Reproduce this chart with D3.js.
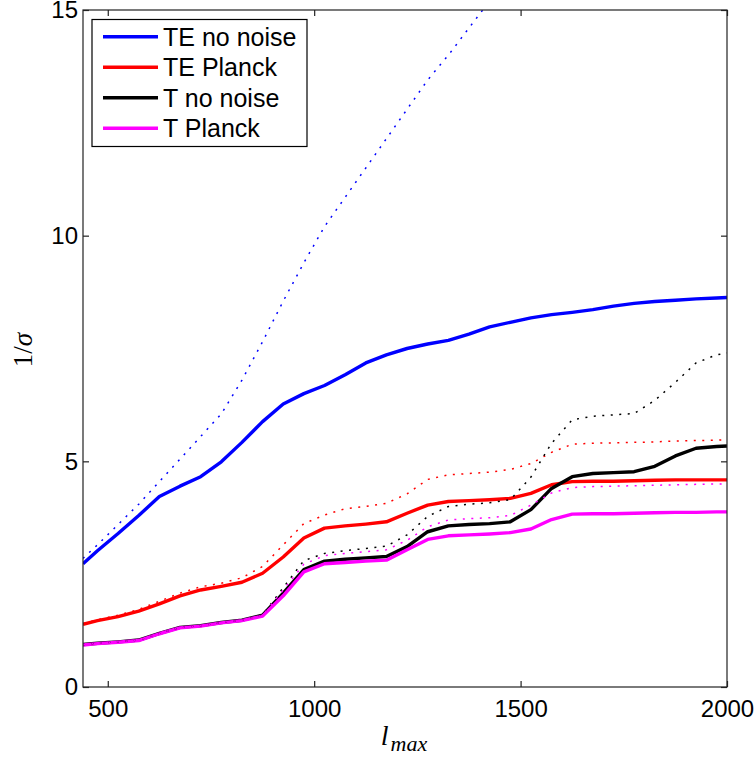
<!DOCTYPE html>
<html>
<head>
<meta charset="utf-8">
<script src="https://cdn.jsdelivr.net/npm/d3@7"></script>
<style>
  body { margin: 0; background: #fff; }
  svg { display: block; }
  text { font-family: "Liberation Sans", Arial, sans-serif; }
</style>
</head>
<body>
<svg width="756" height="758"></svg>
<script>
const lmax = [440, 475, 525, 575, 625, 675, 725, 775, 825, 875, 925, 975, 1025, 1075, 1125, 1175,
  1225, 1275, 1325, 1375, 1425, 1475, 1525, 1575, 1625, 1675, 1725, 1775, 1825, 1875, 1925, 1975, 2000];

const teNoNoise = [2.73, 3.02, 3.40, 3.80, 4.22, 4.45, 4.66, 4.99, 5.42, 5.88, 6.27, 6.50, 6.68, 6.92, 7.18, 7.36,
  7.50, 7.60, 7.68, 7.82, 7.98, 8.08, 8.18, 8.25, 8.30, 8.36, 8.44, 8.50, 8.54, 8.57, 8.60, 8.62, 8.63];
const teNoNoiseDot = [2.85, 3.15, 3.60, 4.05, 4.55, 5.05, 5.55, 6.05, 6.80, 7.65, 8.55, 9.40, 10.2, 10.85, 11.5, 12.15,
  12.8, 13.45, 14.0, 14.6, 15.2, null, null, null, null, null, null, null, null, null, null, null, null];

const tePlanck = [1.39, 1.47, 1.56, 1.68, 1.84, 2.02, 2.15, 2.23, 2.32, 2.52, 2.88, 3.30, 3.52, 3.57, 3.61, 3.66,
  3.85, 4.03, 4.11, 4.13, 4.15, 4.18, 4.29, 4.48, 4.55, 4.56, 4.56, 4.57, 4.58, 4.59, 4.59, 4.59, 4.59];
const tePlanckDot = [1.40, 1.49, 1.59, 1.72, 1.90, 2.08, 2.22, 2.30, 2.42, 2.67, 3.15, 3.62, 3.81, 3.95, 4.00, 4.07,
  4.28, 4.60, 4.70, 4.73, 4.76, 4.82, 4.95, 5.20, 5.38, 5.40, 5.41, 5.42, 5.43, 5.45, 5.46, 5.47, 5.48];

const tNoNoise = [0.94, 0.97, 1.00, 1.04, 1.19, 1.32, 1.36, 1.43, 1.48, 1.59, 2.08, 2.60, 2.79, 2.83, 2.86, 2.89,
  3.11, 3.44, 3.57, 3.60, 3.62, 3.66, 3.93, 4.40, 4.66, 4.73, 4.75, 4.77, 4.89, 5.12, 5.29, 5.33, 5.34];
const tNoNoiseDot = [0.94, 0.97, 1.00, 1.04, 1.19, 1.32, 1.36, 1.43, 1.48, 1.60, 2.20, 2.80, 2.96, 3.02, 3.07, 3.12,
  3.37, 3.78, 4.00, 4.05, 4.08, 4.15, 4.65, 5.40, 5.92, 6.00, 6.03, 6.06, 6.35, 6.75, 7.18, 7.36, 7.40];

const tPlanck = [0.93, 0.96, 0.99, 1.03, 1.18, 1.31, 1.35, 1.42, 1.47, 1.57, 2.02, 2.55, 2.73, 2.76, 2.79, 2.81,
  3.04, 3.27, 3.35, 3.37, 3.39, 3.42, 3.50, 3.71, 3.83, 3.84, 3.84, 3.85, 3.86, 3.87, 3.87, 3.88, 3.88];
const tPlanckDot = [0.94, 0.97, 1.00, 1.04, 1.19, 1.32, 1.36, 1.43, 1.48, 1.59, 2.15, 2.72, 2.91, 2.96, 3.00, 3.04,
  3.25, 3.55, 3.70, 3.73, 3.75, 3.80, 4.03, 4.30, 4.42, 4.44, 4.45, 4.46, 4.47, 4.48, 4.49, 4.50, 4.50];

const seriesNames = ["TE no noise", "TE Planck", "T no noise", "T Planck"];
const seriesColors = ["#0000ff", "#ff0000", "#000000", "#ff00ff"];
const solidValues = [teNoNoise, tePlanck, tNoNoise, tPlanck];
const dottedValues = [teNoNoiseDot, tePlanckDot, tNoNoiseDot, tPlanckDot];

const xTicks = [500, 1000, 1500, 2000];
const yTicks = [0, 5, 10, 15];

const svg = d3.select("svg");
const margin = { left: 83, right: 29, top: 10, bottom: 71 };
const width = 756 - margin.left - margin.right;
const height = 758 - margin.top - margin.bottom;

const x = d3.scaleLinear().domain([440, 2000]).range([0, width]);
const y = d3.scaleLinear().domain([0, 15]).range([height, 0]);

const g = svg.append("g").attr("transform", `translate(${margin.left},${margin.top})`);

g.append("clipPath").attr("id", "plot-clip")
  .append("rect").attr("width", width).attr("height", height);

const line = d3.line()
  .defined(d => d[1] != null)
  .x(d => x(d[0]))
  .y(d => y(d[1]));

const plot = g.append("g").attr("clip-path", "url(#plot-clip)");

// solid curves first, dotted ones on top
solidValues.forEach((vals, i) => {
  plot.append("path")
    .datum(lmax.map((l, j) => [l, vals[j]]))
    .attr("d", line)
    .attr("fill", "none")
    .attr("stroke", seriesColors[i])
    .attr("stroke-width", 3.4)
    .attr("stroke-linejoin", "round");
});

dottedValues.forEach((vals, i) => {
  plot.append("path")
    .datum(lmax.map((l, j) => [l, vals[j]]))
    .attr("d", line)
    .attr("fill", "none")
    .attr("stroke", seriesColors[i])
    .attr("stroke-width", 1.5)
    .attr("stroke-dasharray", "2,6.5");
});

// axes box with inward ticks on all sides
const tickLen = 6;
const axisColor = "#222";

g.append("rect")
  .attr("width", width).attr("height", height)
  .attr("fill", "none").attr("stroke", axisColor).attr("stroke-width", 1.2);

const fmt = d3.format("d");
const xAxis = d3.axisBottom(x).tickValues(xTicks).tickFormat(fmt).tickSizeInner(-tickLen).tickSizeOuter(0).tickPadding(13);
const yAxis = d3.axisLeft(y).tickValues(yTicks).tickFormat(fmt).tickSizeInner(-tickLen).tickSizeOuter(0).tickPadding(5);

g.append("g").attr("transform", `translate(0,${height})`).call(xAxis);
g.append("g").call(yAxis);

g.append("g").call(d3.axisTop(x).tickValues(xTicks).tickSizeInner(-tickLen).tickSizeOuter(0).tickFormat(""));
g.append("g").attr("transform", `translate(${width},0)`)
  .call(d3.axisRight(y).tickValues(yTicks).tickSizeInner(-tickLen).tickSizeOuter(0).tickFormat(""));

g.selectAll(".domain").remove();
g.selectAll(".tick line").attr("stroke", axisColor).attr("stroke-width", 1.2);
g.selectAll(".tick text")
  .attr("fill", "#000")
  .style("font-family", "'Liberation Sans', Arial, sans-serif")
  .style("font-size", "24px");

// axis labels
svg.append("text")
  .attr("x", 404).attr("y", 745)
  .attr("text-anchor", "middle")
  .style("font-family", "'Liberation Serif', 'DejaVu Serif', serif")
  .style("font-style", "italic")
  .style("font-size", "28px")
  .call(t => {
    t.append("tspan").text("l");
    t.append("tspan").attr("dx", 2).attr("dy", 6).style("font-size", "22px").text("max");
  });

svg.append("text")
  .attr("transform", "translate(32,350) rotate(-90)")
  .attr("text-anchor", "middle")
  .style("font-family", "'Liberation Serif', 'DejaVu Serif', serif")
  .style("font-size", "27px")
  .call(t => {
    t.append("tspan").text("1/");
    t.append("tspan").style("font-style", "italic").text("σ");
  });

// legend
const legend = svg.append("g").attr("transform", "translate(92,19.5)");
legend.append("rect")
  .attr("width", 215).attr("height", 127)
  .attr("fill", "#fff").attr("stroke", "#000").attr("stroke-width", 1.2);

const entry = legend.selectAll("g.entry")
  .data(seriesNames)
  .join("g")
  .attr("class", "entry")
  .attr("transform", (d, i) => `translate(0,${17.2 + i * 30.5})`);

entry.append("line")
  .attr("x1", 11).attr("x2", 66)
  .attr("stroke", (d, i) => seriesColors[i])
  .attr("stroke-width", 3.4);

entry.append("text")
  .attr("x", 71).attr("dy", "0.36em")
  .style("font-size", "25px")
  .text(d => d);
</script>
</body>
</html>
